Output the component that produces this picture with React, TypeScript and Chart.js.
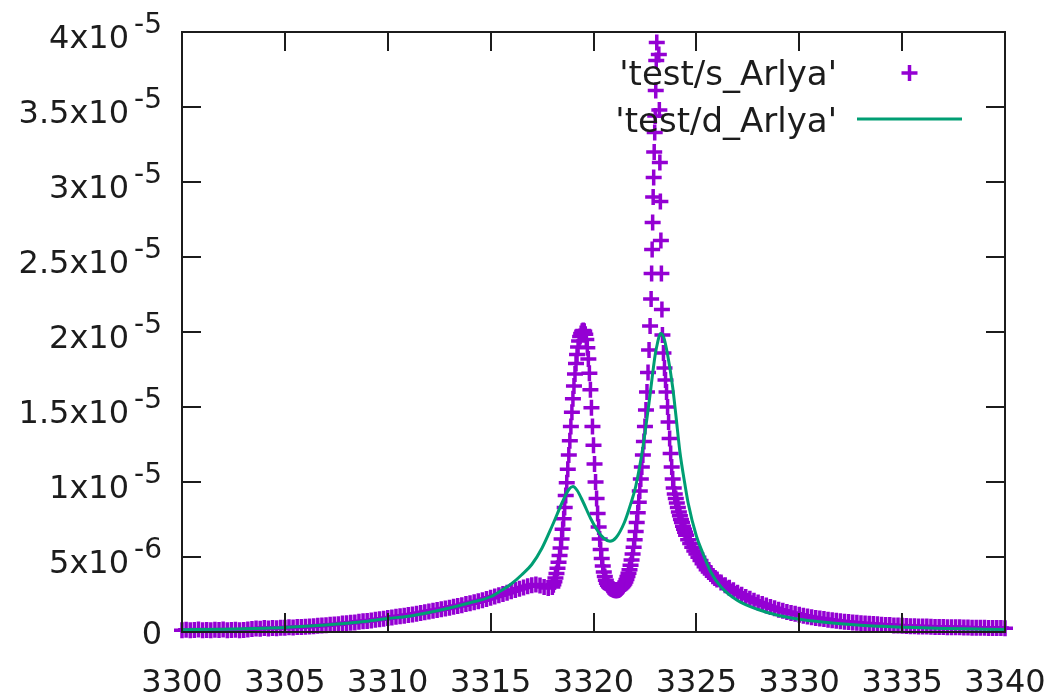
import React, { useEffect, useRef } from 'react';
import { Chart, registerables } from 'chart.js';

Chart.register(...registerables);

// ---- axis ranges and ticks ----
const xRange = [3300, 3340];
const yRange = [0, 4e-5];
const xTickValues = [3300, 3305, 3310, 3315, 3320, 3325, 3330, 3335, 3340];
const xTickLabels = ['3300', '3305', '3310', '3315', '3320', '3325', '3330', '3335', '3340'];
const yTickValues = [0, 5e-6, 1e-5, 1.5e-5, 2e-5, 2.5e-5, 3e-5, 3.5e-5, 4e-5];
const yTickLabels = ['0', '5x10^-6', '1x10^-5', '1.5x10^-5', '2x10^-5', '2.5x10^-5', '3x10^-5', '3.5x10^-5', '4x10^-5'];

// ---- series names ----
const seriesNames = ["'test/s_Arlya'", "'test/d_Arlya'"];

// ---- series 1: 'test/s_Arlya' (points), y in units of 1e-6 ----
const scatterX = [
  // left tail
  3300.0, 3300.2, 3300.4, 3300.6, 3300.8, 3301.0, 3301.2, 3301.4, 3301.6, 3301.8,
  3302.0, 3302.2, 3302.4, 3302.6, 3302.8, 3303.0, 3303.2, 3303.4, 3303.6, 3303.8,
  3304.0, 3304.2, 3304.4, 3304.6, 3304.8, 3305.0, 3305.2, 3305.4, 3305.6, 3305.8,
  3306.0, 3306.2, 3306.4, 3306.6, 3306.8, 3307.0, 3307.2, 3307.4, 3307.6, 3307.8,
  3308.0, 3308.2, 3308.4, 3308.6, 3308.8, 3309.0, 3309.2, 3309.4, 3309.6, 3309.8,
  3310.0, 3310.2, 3310.4, 3310.6, 3310.8, 3311.0, 3311.2, 3311.4, 3311.6, 3311.8,
  3312.0, 3312.2, 3312.4, 3312.6, 3312.8, 3313.0, 3313.2, 3313.4, 3313.6, 3313.8,
  3314.0, 3314.2, 3314.4, 3314.6, 3314.8, 3315.0, 3315.2, 3315.4, 3315.6, 3315.8,
  3316.0, 3316.2, 3316.4, 3316.6, 3316.8, 3317.0, 3317.2, 3317.4, 3317.6, 3317.8,
  // first peak
  3318.00, 3318.05, 3318.10, 3318.15, 3318.20, 3318.25, 3318.30, 3318.35,
  3318.40, 3318.45, 3318.50, 3318.55, 3318.60, 3318.65, 3318.70, 3318.75,
  3318.80, 3318.85, 3318.90, 3318.95, 3319.00, 3319.05, 3319.10, 3319.15,
  3319.20, 3319.25, 3319.30, 3319.35, 3319.40, 3319.45, 3319.50, 3319.55,
  3319.60, 3319.65, 3319.70, 3319.75, 3319.80, 3319.85, 3319.90, 3319.95,
  3320.00, 3320.05, 3320.10, 3320.15, 3320.20, 3320.25, 3320.30, 3320.35,
  3320.40, 3320.45, 3320.50, 3320.55, 3320.60,
  // valley
  3320.65, 3320.70, 3320.75, 3320.80, 3320.85, 3320.90, 3320.95, 3321.00,
  3321.05, 3321.10, 3321.15, 3321.20, 3321.25, 3321.30, 3321.35, 3321.40,
  3321.45, 3321.50, 3321.55, 3321.60, 3321.65, 3321.70,
  // second peak
  3321.75, 3321.80, 3321.85, 3321.90, 3321.95, 3322.00, 3322.05, 3322.10,
  3322.15, 3322.20, 3322.25, 3322.30, 3322.35, 3322.40, 3322.45, 3322.50,
  3322.55, 3322.60, 3322.65, 3322.70, 3322.75, 3322.80,
  3322.825, 3322.850, 3322.875, 3322.900, 3322.925, 3322.950, 3322.975, 3323.000,
  3323.025, 3323.050, 3323.075, 3323.100, 3323.125, 3323.150, 3323.175, 3323.200,
  3323.225, 3323.250, 3323.275, 3323.300, 3323.325,
  3323.35, 3323.40, 3323.45, 3323.50, 3323.55, 3323.60, 3323.65, 3323.70,
  3323.75, 3323.80, 3323.85, 3323.90, 3323.95, 3324.00, 3324.05, 3324.10,
  3324.15, 3324.20, 3324.25, 3324.30, 3324.35, 3324.40, 3324.45, 3324.50,
  3324.6, 3324.7, 3324.8, 3324.9, 3325.0, 3325.1, 3325.2, 3325.3, 3325.4, 3325.5,
  3325.6, 3325.7, 3325.8, 3325.9, 3326.0,
  // right tail
  3326.2, 3326.4, 3326.6, 3326.8, 3327.0, 3327.2, 3327.4, 3327.6, 3327.8, 3328.0,
  3328.2, 3328.4, 3328.6, 3328.8, 3329.0, 3329.2, 3329.4, 3329.6, 3329.8, 3330.0,
  3330.2, 3330.4, 3330.6, 3330.8, 3331.0, 3331.2, 3331.4, 3331.6, 3331.8, 3332.0,
  3332.2, 3332.4, 3332.6, 3332.8, 3333.0, 3333.2, 3333.4, 3333.6, 3333.8, 3334.0,
  3334.2, 3334.4, 3334.6, 3334.8, 3335.0, 3335.2, 3335.4, 3335.6, 3335.8, 3336.0,
  3336.2, 3336.4, 3336.6, 3336.8, 3337.0, 3337.2, 3337.4, 3337.6, 3337.8, 3338.0,
  3338.2, 3338.4, 3338.6, 3338.8, 3339.0, 3339.2, 3339.4, 3339.6, 3339.8, 3340.0,
];
const scatterY = [
  // left tail
  0.12, 0.15, 0.11, 0.14, 0.16, 0.12, 0.14, 0.11, 0.15, 0.13,
  0.16, 0.12, 0.14, 0.15, 0.12, 0.14, 0.16, 0.20, 0.24, 0.22,
  0.26, 0.24, 0.27, 0.25, 0.29, 0.28, 0.31, 0.30, 0.33, 0.34,
  0.35, 0.37, 0.38, 0.41, 0.43, 0.45, 0.48, 0.50, 0.52, 0.56,
  0.58, 0.61, 0.64, 0.68, 0.71, 0.74, 0.77, 0.81, 0.85, 0.89,
  0.93, 0.97, 1.01, 1.05, 1.09, 1.13, 1.17, 1.22, 1.26, 1.31,
  1.36, 1.41, 1.46, 1.51, 1.56, 1.62, 1.68, 1.73, 1.79, 1.86,
  1.92, 1.98, 2.05, 2.12, 2.20, 2.28, 2.36, 2.45, 2.53, 2.62,
  2.71, 2.80, 2.89, 2.97, 3.05, 3.12, 3.16, 3.10, 3.00, 2.94,
  // first peak
  3.00, 3.15, 3.35, 3.60, 3.90, 4.25, 4.65, 5.10,
  5.60, 6.20, 6.85, 7.55, 8.30, 9.10, 9.95, 10.85,
  11.80, 12.75, 13.70, 14.65, 15.55, 16.40, 17.20, 17.90,
  18.50, 19.00, 19.40, 19.70, 19.90, 20.05, 20.10, 20.05,
  19.85, 19.50, 18.95, 18.20, 17.25, 16.15, 14.95, 13.70,
  12.45, 11.20, 10.00, 8.90, 7.90, 7.00, 6.20, 5.50,
  4.90, 4.40, 4.00, 3.70, 3.45,
  // valley
  3.25, 3.12, 3.02, 2.95, 2.90, 2.86, 2.83, 2.80,
  2.79, 2.78, 2.78, 2.80, 2.84, 2.89, 2.95, 3.02,
  3.10, 3.20, 3.33, 3.50, 3.70, 3.92,
  // second peak
  4.15, 4.45, 4.80, 5.20, 5.65, 6.15, 6.70, 7.30,
  7.95, 8.65, 9.40, 10.20, 11.00, 11.80, 12.70, 13.70,
  14.80, 16.00, 17.30, 18.80, 20.40, 22.20,
  23.90, 25.50, 27.30, 29.00, 30.30, 32.00, 33.30, 34.40,
  36.10, 38.10, 39.30, 41.50, 43.00, 42.00, 38.50, 34.80,
  31.30, 28.70, 26.10, 23.90, 21.50,
  19.80, 18.60, 17.60, 16.80, 16.00, 15.00, 14.00, 12.90,
  11.90, 11.00, 10.20, 9.60, 9.20, 8.90, 8.60, 8.30,
  8.00, 7.75, 7.50, 7.30, 7.05, 6.85, 6.65, 6.45,
  6.15, 5.90, 5.65, 5.40, 5.20, 4.98, 4.76, 4.55, 4.35, 4.15,
  4.00, 3.86, 3.72, 3.60, 3.50,
  // right tail
  3.30, 3.12, 2.95, 2.78, 2.62, 2.48, 2.34, 2.21, 2.09, 1.97,
  1.86, 1.76, 1.67, 1.58, 1.49, 1.41, 1.34, 1.27, 1.21, 1.15,
  1.09, 1.04, 0.99, 0.94, 0.90, 0.86, 0.82, 0.78, 0.75, 0.72,
  0.69, 0.66, 0.64, 0.61, 0.59, 0.57, 0.55, 0.53, 0.51, 0.49,
  0.47, 0.46, 0.44, 0.43, 0.42, 0.40, 0.39, 0.38, 0.37, 0.36,
  0.36, 0.35, 0.34, 0.34, 0.33, 0.32, 0.32, 0.31, 0.31, 0.30,
  0.30, 0.29, 0.29, 0.28, 0.28, 0.27, 0.27, 0.26, 0.26, 0.25,
];

// ---- series 2: 'test/d_Arlya' (line), y in units of 1e-6 ----
const lineX = [
  3300, 3302, 3304, 3305, 3306, 3307, 3308, 3309, 3310, 3311, 3312, 3313,
  3314, 3315, 3315.5, 3316, 3316.5, 3317, 3317.5, 3318, 3318.5, 3318.8,
  3319.0, 3319.2, 3319.5, 3319.85, 3320.2, 3320.5, 3320.8, 3321.1, 3321.5,
  3321.8, 3322.05, 3322.4, 3322.7, 3323.0, 3323.1, 3323.25, 3323.4, 3323.6,
  3323.85, 3324.0, 3324.2, 3324.4, 3324.6, 3325.0, 3325.3, 3325.7, 3326.2,
  3327, 3328, 3329, 3330, 3331, 3332, 3333, 3334, 3335, 3336, 3337, 3338,
  3339, 3340,
];
const lineY = [
  0.15, 0.18, 0.25, 0.30, 0.38, 0.47, 0.58, 0.72, 0.90, 1.05, 1.30, 1.60,
  1.95, 2.35, 2.75, 3.20, 3.80, 4.50, 5.60, 7.10, 8.70, 9.50,
  9.70, 9.45, 8.65, 7.60, 6.75, 6.25, 6.05, 6.30, 7.30,
  8.50, 9.70, 12.30, 15.30, 18.50, 19.20, 19.90, 19.70, 18.50,
  16.30, 14.50, 12.00, 10.20, 8.60, 6.40, 5.30, 4.00, 3.00,
  2.10, 1.50, 1.10, 0.85, 0.68, 0.55, 0.45, 0.38, 0.32, 0.28, 0.24, 0.21,
  0.19, 0.17,
];

const unitScale = 1e-6;
const seriesColors = ['#9400D3', '#009E73'];
const inkColor = '#1c1c1c';
const fontFamily = '"DejaVu Sans", "Liberation Sans", Arial, sans-serif';

function drawYLabel(ctx: CanvasRenderingContext2D, label: string, xRight: number, yTick: number) {
  const parts = label.split('^');
  ctx.fillStyle = inkColor;
  ctx.textBaseline = 'alphabetic';
  if (parts.length === 1) {
    ctx.font = `32px ${fontFamily}`;
    ctx.textAlign = 'right';
    ctx.fillText(parts[0], xRight, yTick + 12);
    return;
  }
  ctx.font = `28px ${fontFamily}`;
  const expW = ctx.measureText(parts[1]).width;
  ctx.textAlign = 'right';
  ctx.fillText(parts[1], xRight, yTick + 1);
  ctx.font = `32px ${fontFamily}`;
  ctx.fillText(parts[0], xRight - expW - 5, yTick + 16);
}

const gnuplotFrame = {
  id: 'gnuplotFrame',
  afterDatasetsDraw(chart: any) {
    const { ctx, chartArea: a, scales } = chart;
    const xs = scales.x;
    const ys = scales.y;
    const tickLen = 19;
    ctx.save();
    ctx.strokeStyle = inkColor;
    ctx.lineWidth = 2;
    ctx.strokeRect(a.left, a.top, a.right - a.left, a.bottom - a.top);
    ctx.beginPath();
    xTickValues.forEach((v) => {
      const px = Math.round(xs.getPixelForValue(v));
      ctx.moveTo(px, a.bottom);
      ctx.lineTo(px, a.bottom - tickLen);
      ctx.moveTo(px, a.top);
      ctx.lineTo(px, a.top + tickLen);
    });
    yTickValues.forEach((v) => {
      const py = Math.round(ys.getPixelForValue(v));
      ctx.moveTo(a.left, py);
      ctx.lineTo(a.left + tickLen, py);
      ctx.moveTo(a.right, py);
      ctx.lineTo(a.right - tickLen, py);
    });
    ctx.stroke();

    // tick labels
    ctx.fillStyle = inkColor;
    ctx.font = `32px ${fontFamily}`;
    ctx.textAlign = 'center';
    ctx.textBaseline = 'alphabetic';
    xTickValues.forEach((v, i) => {
      ctx.fillText(xTickLabels[i], xs.getPixelForValue(v), a.bottom + 60);
    });
    yTickValues.forEach((v, i) => {
      drawYLabel(ctx, yTickLabels[i], a.left - 20, ys.getPixelForValue(v));
    });

    // key (gnuplot style: text right-aligned, sample to the right)
    const textRight = a.left + 655;
    const sampleL = a.left + 675;
    const sampleR = a.left + 780;
    const rows = [a.top + 41, a.top + 88];
    ctx.font = `34px ${fontFamily}`;
    ctx.textAlign = 'right';
    ctx.fillStyle = inkColor;
    ctx.fillText(seriesNames[0], textRight, rows[0] + 12);
    ctx.fillText(seriesNames[1], textRight, rows[1] + 12);
    const cx = (sampleL + sampleR) / 2;
    ctx.strokeStyle = seriesColors[0];
    ctx.lineWidth = 3.5;
    ctx.beginPath();
    ctx.moveTo(cx - 8, rows[0]);
    ctx.lineTo(cx + 8, rows[0]);
    ctx.moveTo(cx, rows[0] - 8);
    ctx.lineTo(cx, rows[0] + 8);
    ctx.stroke();
    ctx.strokeStyle = seriesColors[1];
    ctx.lineWidth = 3;
    ctx.beginPath();
    ctx.moveTo(sampleL, rows[1] - 1);
    ctx.lineTo(sampleR, rows[1] - 1);
    ctx.stroke();
    ctx.restore();
  },
};

export default function App() {
  const canvasRef = useRef<HTMLCanvasElement | null>(null);

  useEffect(() => {
    const canvas = canvasRef.current;
    if (!canvas) return;
    const pointsData = scatterX.map((x, i) => ({ x, y: scatterY[i] * unitScale }));
    const lineData = lineX.map((x, i) => ({ x, y: lineY[i] * unitScale }));
    const chart = new Chart(canvas, {
      type: 'scatter',
      data: {
        datasets: [
          {
            label: seriesNames[0],
            data: pointsData,
            showLine: false,
            pointStyle: 'cross',
            pointRadius: 8,
            pointBorderWidth: 3.5,
            borderColor: seriesColors[0],
            backgroundColor: seriesColors[0],
            pointHoverRadius: 8,
            clip: { left: 14, right: 14, top: 9, bottom: 14 },
            order: 2,
          } as any,
          {
            label: seriesNames[1],
            data: lineData,
            showLine: true,
            pointRadius: 0,
            borderColor: seriesColors[1],
            backgroundColor: seriesColors[1],
            borderWidth: 3,
            cubicInterpolationMode: 'monotone',
            order: 1,
          } as any,
        ],
      },
      options: {
        animation: false,
        responsive: false,
        maintainAspectRatio: false,
        events: [],
        layout: { padding: { top: 32, right: 53, left: 0, bottom: 0 } },
        plugins: {
          legend: { display: false },
          tooltip: { enabled: false },
        },
        scales: {
          x: {
            type: 'linear',
            min: xRange[0],
            max: xRange[1],
            grid: { display: false },
            border: { display: false },
            ticks: { display: false },
            afterFit: (s: any) => {
              s.height = 64;
            },
          },
          y: {
            type: 'linear',
            min: yRange[0],
            max: yRange[1],
            grid: { display: false },
            border: { display: false },
            ticks: { display: false },
            afterFit: (s: any) => {
              s.width = 182;
            },
          },
        },
      },
      plugins: [gnuplotFrame],
    });
    return () => chart.destroy();
  }, []);

  return (
    <div style={{ position: 'fixed', left: 0, top: 0, width: 1058, height: 696, background: '#fff' }}>
      <canvas ref={canvasRef} width={1058} height={696} style={{ display: 'block', width: 1058, height: 696 }} />
    </div>
  );
}
